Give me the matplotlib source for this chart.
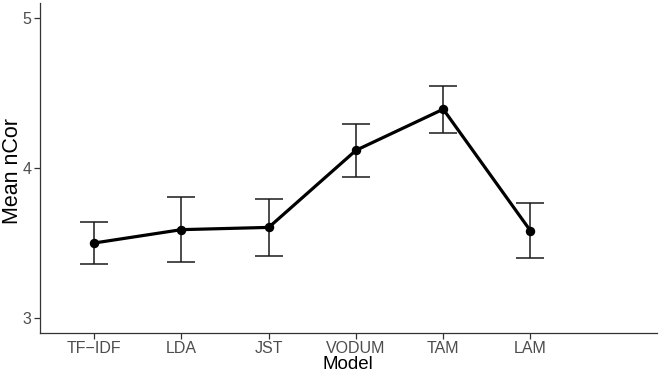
import matplotlib
matplotlib.use("Agg")
import matplotlib.pyplot as plt
import numpy as np

plt.rcParams['font.family'] = ['Liberation Sans', 'DejaVu Sans']

# Mean nCor per model with error bar limits
models = ["TF\u2212IDF", "LDA", "JST", "VODUM", "TAM", "LAM"]
means = [3.500, 3.589, 3.604, 4.118, 4.392, 3.581]
upper = [3.638, 3.805, 3.794, 4.296, 4.550, 3.764]
lower = [3.361, 3.375, 3.416, 3.942, 4.236, 3.397]

x = np.arange(len(models))
means_arr = np.array(means)
yerr = [means_arr - np.array(lower), np.array(upper) - means_arr]

fig = plt.figure(figsize=(6.64, 3.8), dpi=100)
ax = fig.add_axes([39.7 / 664, 47 / 380, (657 - 39.7) / 664, (333 - 3) / 380])

ax.errorbar(x, means, yerr=yerr, fmt='none', ecolor='#1a1a1a',
            elinewidth=1.1, capsize=10, capthick=1.1, zorder=2)
ax.plot(x, means, color='black', lw=2.3, marker='o', markersize=5.8, zorder=3)

ax.set_xlim(-0.625, 6.45)
ax.set_ylim(2.9, 5.1)
ax.set_xticks(x)
ax.set_xticklabels(models)
ax.set_yticks([3, 4, 5])

for side in ['top', 'right']:
    ax.spines[side].set_visible(False)
for side in ['left', 'bottom']:
    ax.spines[side].set_color('#333333')
    ax.spines[side].set_linewidth(0.9)

ax.tick_params(axis='both', colors='#333333', labelcolor='#4d4d4d',
               labelsize=11.5, length=4, width=0.9, pad=2)

ax.set_xlabel("Model", fontsize=13.5, labelpad=0)
ax.set_ylabel("Mean nCor", fontsize=15.5)
# place the y title just left of the tick labels, like ggplot does
ax.yaxis.set_label_coords(-0.027, 0.49)

fig.savefig("out.png", dpi=100)
